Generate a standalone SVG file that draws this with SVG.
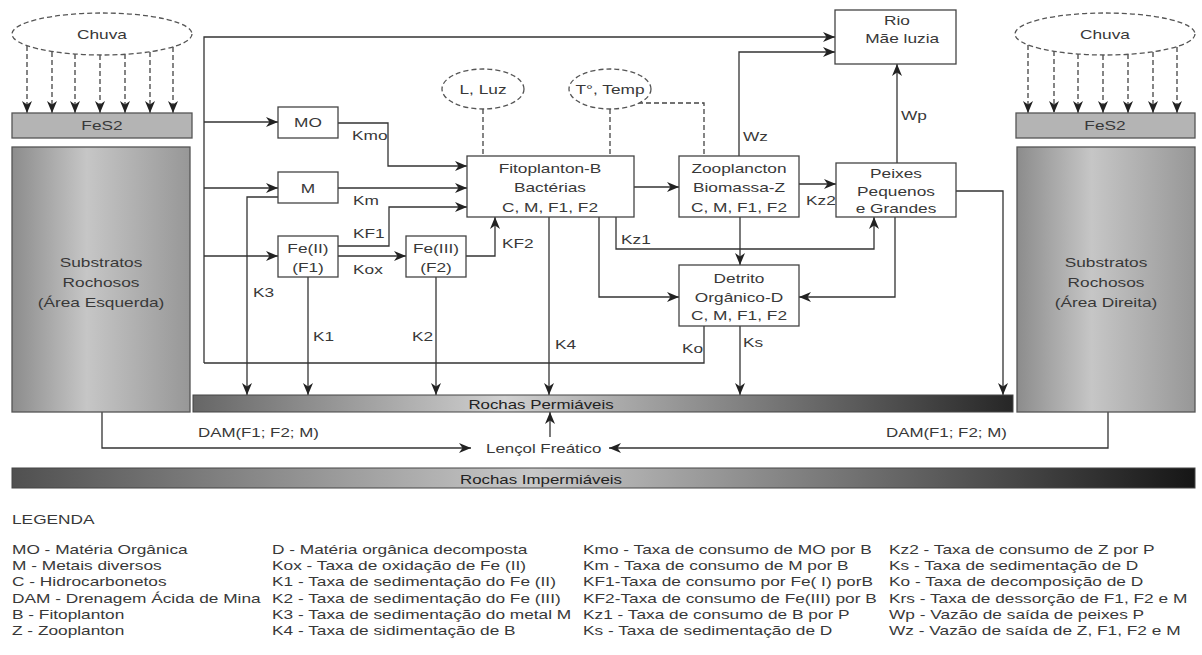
<svg xmlns="http://www.w3.org/2000/svg" width="1202" height="655" viewBox="0 0 1202 655">
<defs>
<style>
text{font-family:"Liberation Sans",Arial,sans-serif;font-size:13.5px;fill:#383838}
.m{text-anchor:middle}
.box{fill:#fff;stroke:#444;stroke-width:1.3}
.ln{fill:none;stroke:#333;stroke-width:1.3}
.ar{marker-end:url(#ah)}
.dash{fill:none;stroke:#444;stroke-width:1.3;stroke-dasharray:5,3}
.ell{fill:#fff;stroke:#555;stroke-width:1.3;stroke-dasharray:5,3}
.fes{fill:#b4b4b4;stroke:#555;stroke-width:1.3}
.rock{fill:url(#gRock);stroke:#555;stroke-width:1.3}
</style>
<marker id="ah" viewBox="0 0 12 10" refX="12" refY="5" markerWidth="12" markerHeight="10" markerUnits="userSpaceOnUse" orient="auto">
<path d="M0,0 L12,5 L0,10 L3.5,5 Z" fill="#222"/>
</marker>
<linearGradient id="gRock" x1="0" y1="0" x2="1" y2="0">
<stop offset="0" stop-color="#8c8c8c"/><stop offset="0.42" stop-color="#c6c6c6"/><stop offset="1" stop-color="#979797"/>
</linearGradient>
<linearGradient id="gPerm" x1="0" y1="0" x2="1" y2="0">
<stop offset="0" stop-color="#666"/><stop offset="0.38" stop-color="#d0d0d0"/><stop offset="1" stop-color="#262626"/>
</linearGradient>
<linearGradient id="gImp" x1="0" y1="0" x2="1" y2="0">
<stop offset="0" stop-color="#505050"/><stop offset="0.44" stop-color="#c8c8c8"/><stop offset="1" stop-color="#161616"/>
</linearGradient>
</defs>
<rect width="1202" height="655" fill="#fff"/>

<g id="connectors">
<path class="ln ar" d="M204,363 V37 H835"/>
<path class="ln ar" d="M204,122 H278"/>
<path class="ln ar" d="M204,188 H278"/>
<path class="ln ar" d="M204,256 H278"/>
<path class="ln" d="M704,326 V363 H204"/>
<path class="ln ar" d="M338,123 H388 V166 H467"/>
<path class="ln ar" d="M338,188 H467"/>
<path class="ln ar" d="M338,246 H389 V207 H467"/>
<path class="ln ar" d="M338,256 H406"/>
<path class="ln ar" d="M466,256 H495 V217"/>
<path class="ln ar" d="M278,197 H247 V395"/>
<path class="ln ar" d="M308,277 V395"/>
<path class="ln ar" d="M436,277 V395"/>
<path class="ln ar" d="M549,217 V395"/>
<path class="ln ar" d="M634,187 H679"/>
<path class="ln ar" d="M599,217 V297 H679"/>
<path class="ln ar" d="M616,217 V249 H874 V217"/>
<path class="ln ar" d="M740,217 V265"/>
<path class="ln ar" d="M739,156 V52 H835"/>
<path class="ln ar" d="M799,184 H836"/>
<path class="ln ar" d="M897,163 V64"/>
<path class="ln ar" d="M895,217 V297 H799"/>
<path class="ln ar" d="M956,191 H1003 V395"/>
<path class="ln ar" d="M740,326 V395"/>
<path class="ln ar" d="M102,412 V448 H471"/>
<path class="ln ar" d="M1108,412 V448 H609"/>
<path class="ln ar" d="M550,437 V412"/>
<path class="dash" d="M483,109 V156"/>
<path class="dash" d="M610,109 V156"/>
<path class="dash" d="M638,103 H704 V156"/>
<g class="dash ar">
<path d="M27,46 V113"/><path d="M52,52 V113"/><path d="M75,54 V113"/><path d="M100,55 V113"/><path d="M125,54 V113"/><path d="M150,52 V113"/><path d="M173,47 V113"/>
<path d="M1028,45 V113"/><path d="M1054,51 V113"/><path d="M1078,54 V113"/><path d="M1103,55 V113"/><path d="M1128,54 V113"/><path d="M1153,52 V113"/><path d="M1177,47 V113"/>
</g>
</g>

<g id="chuva-esq"><ellipse class="ell" cx="102" cy="34" rx="90" ry="21"/><text class="m" transform="translate(102,39) scale(1.28,1)">Chuva</text></g>
<g id="chuva-dir"><ellipse class="ell" cx="1105" cy="34" rx="90" ry="21"/><text class="m" transform="translate(1105,39) scale(1.28,1)">Chuva</text></g>
<g id="fes2-esq"><rect class="fes" x="12" y="113" width="180" height="25"/><text class="m" transform="translate(102,130) scale(1.28,1)">FeS2</text></g>
<g id="fes2-dir"><rect class="fes" x="1016" y="113" width="179" height="25"/><text class="m" transform="translate(1105,130) scale(1.28,1)">FeS2</text></g>
<g id="substrato-esq"><rect class="rock" x="12" y="147" width="178" height="265"/>
<text class="m" transform="translate(101,267) scale(1.28,1)"><tspan x="0" y="0">Substratos</tspan><tspan x="0" y="20">Rochosos</tspan><tspan x="0" y="40">(Área Esquerda)</tspan></text></g>
<g id="substrato-dir"><rect class="rock" x="1017" y="147" width="178" height="265"/>
<text class="m" transform="translate(1106,267) scale(1.28,1)"><tspan x="0" y="0">Substratos</tspan><tspan x="0" y="20">Rochosos</tspan><tspan x="0" y="40">(Área Direita)</tspan></text></g>

<g id="rio"><rect class="box" x="835" y="10" width="121" height="54"/>
<text class="m" transform="translate(897,25) scale(1.28,1)"><tspan x="0" y="0">Rio</tspan><tspan x="4" y="18">Mãe luzia</tspan></text></g>
<g id="luz"><ellipse class="ell" cx="483" cy="89" rx="41" ry="20"/><text class="m" transform="translate(483,94) scale(1.28,1)">L, Luz</text></g>
<g id="temp"><ellipse class="ell" cx="610" cy="89" rx="41" ry="20"/><text class="m" transform="translate(610,94) scale(1.28,1)">T°, Temp</text></g>
<g id="mo"><rect class="box" x="278" y="107" width="60" height="31"/><text class="m" transform="translate(308,127) scale(1.28,1)">MO</text></g>
<g id="m"><rect class="box" x="278" y="172" width="60" height="31"/><text class="m" transform="translate(308,193) scale(1.28,1)">M</text></g>
<g id="fe2"><rect class="box" x="278" y="236" width="60" height="41"/>
<text class="m" transform="translate(308,253) scale(1.28,1)"><tspan x="0" y="0">Fe(II)</tspan><tspan x="0" y="19">(F1)</tspan></text></g>
<g id="fe3"><rect class="box" x="406" y="236" width="60" height="41"/>
<text class="m" transform="translate(436,253) scale(1.28,1)"><tspan x="0" y="0">Fe(III)</tspan><tspan x="0" y="19">(F2)</tspan></text></g>
<g id="fito"><rect class="box" x="467" y="156" width="167" height="61"/>
<text class="m" transform="translate(550,173) scale(1.28,1)"><tspan x="0" y="0">Fitoplanton-B</tspan><tspan x="0" y="19">Bactérias</tspan><tspan x="0" y="39">C, M, F1, F2</tspan></text></g>
<g id="zoo"><rect class="box" x="679" y="156" width="120" height="61"/>
<text class="m" transform="translate(739,173) scale(1.28,1)"><tspan x="0" y="0">Zooplancton</tspan><tspan x="0" y="19">Biomassa-Z</tspan><tspan x="0" y="39">C, M, F1, F2</tspan></text></g>
<g id="peixes"><rect class="box" x="836" y="163" width="120" height="54"/>
<text class="m" transform="translate(896,178) scale(1.28,1)"><tspan x="0" y="0">Peixes</tspan><tspan x="0" y="18">Pequenos</tspan><tspan x="0" y="35">e Grandes</tspan></text></g>
<g id="detrito"><rect class="box" x="679" y="265" width="120" height="61"/>
<text class="m" transform="translate(739,283) scale(1.28,1)"><tspan x="0" y="0">Detrito</tspan><tspan x="0" y="19">Orgânico-D</tspan><tspan x="0" y="37">C, M, F1, F2</tspan></text></g>

<g id="rochas-permeaveis"><rect x="193" y="395" width="820" height="17" fill="url(#gPerm)" stroke="#444" stroke-width="1"/>
<text class="m" transform="translate(541,409) scale(1.25,1)" style="fill:#222">Rochas Permiáveis</text></g>
<g id="lencol"><text transform="translate(486,453) scale(1.25,1)">Lençol Freático</text></g>
<g id="rochas-impermeaveis"><rect x="12" y="468" width="1183" height="20" fill="url(#gImp)" stroke="#444" stroke-width="1"/>
<text class="m" transform="translate(541,484) scale(1.25,1)" style="fill:#222">Rochas Impermiáveis</text></g>

<g id="labels">
<text transform="translate(352,140) scale(1.28,1)">Kmo</text>
<text transform="translate(353,205) scale(1.28,1)">Km</text>
<text transform="translate(353,238) scale(1.28,1)">KF1</text>
<text transform="translate(353,274) scale(1.28,1)">Kox</text>
<text transform="translate(502,248) scale(1.28,1)">KF2</text>
<text transform="translate(253,297) scale(1.28,1)">K3</text>
<text transform="translate(313,341) scale(1.28,1)">K1</text>
<text transform="translate(412,341) scale(1.28,1)">K2</text>
<text transform="translate(555,349) scale(1.28,1)">K4</text>
<text transform="translate(621,244) scale(1.28,1)">Kz1</text>
<text transform="translate(682,353) scale(1.28,1)">Ko</text>
<text transform="translate(743,347) scale(1.28,1)">Ks</text>
<text transform="translate(743,141) scale(1.28,1)">Wz</text>
<text transform="translate(901,120) scale(1.28,1)">Wp</text>
<text transform="translate(806,205) scale(1.28,1)">Kz2</text>
<text transform="translate(198,437) scale(1.25,1)">DAM(F1; F2; M)</text>
<text transform="translate(886,437) scale(1.25,1)">DAM(F1; F2; M)</text>
</g>

<g id="legenda">
<text transform="translate(12,524) scale(1.28,1)">LEGENDA</text>
<g transform="translate(12,0)">
<text transform="translate(0,554) scale(1.28,1)">MO - Matéria Orgânica</text>
<text transform="translate(0,570) scale(1.28,1)">M - Metais diversos</text>
<text transform="translate(0,586) scale(1.28,1)">C - Hidrocarbonetos</text>
<text transform="translate(0,603) scale(1.28,1)">DAM - Drenagem Ácida de Mina</text>
<text transform="translate(0,619) scale(1.28,1)">B - Fitoplanton</text>
<text transform="translate(0,635) scale(1.28,1)">Z - Zooplanton</text>
</g>
<g transform="translate(272,0)">
<text transform="translate(0,554) scale(1.28,1)">D - Matéria orgânica decomposta</text>
<text transform="translate(0,570) scale(1.28,1)">Kox - Taxa de oxidação de Fe (II)</text>
<text transform="translate(0,586) scale(1.28,1)">K1 - Taxa de sedimentação do Fe (II)</text>
<text transform="translate(0,603) scale(1.28,1)">K2 - Taxa de sedimentação do Fe (III)</text>
<text transform="translate(0,619) scale(1.28,1)">K3 - Taxa de sedimentação do metal M</text>
<text transform="translate(0,635) scale(1.28,1)">K4 - Taxa de sidimentação de B</text>
</g>
<g transform="translate(583,0)">
<text transform="translate(0,554) scale(1.28,1)">Kmo - Taxa de consumo de MO por B</text>
<text transform="translate(0,570) scale(1.28,1)">Km - Taxa de consumo de M por B</text>
<text transform="translate(0,586) scale(1.28,1)">KF1-Taxa de consumo por Fe( I) porB</text>
<text transform="translate(0,603) scale(1.28,1)">KF2-Taxa de consumo de Fe(III) por B</text>
<text transform="translate(0,619) scale(1.28,1)">Kz1 - Taxa de consumo de B por P</text>
<text transform="translate(0,635) scale(1.28,1)">Ks - Taxa de sedimentação de D</text>
</g>
<g transform="translate(889,0)">
<text transform="translate(0,554) scale(1.28,1)">Kz2 - Taxa de consumo de Z por P</text>
<text transform="translate(0,570) scale(1.28,1)">Ks - Taxa de sedimentação de D</text>
<text transform="translate(0,586) scale(1.28,1)">Ko - Taxa de decomposição de D</text>
<text transform="translate(0,603) scale(1.28,1)">Krs - Taxa de dessorção de F1, F2 e M</text>
<text transform="translate(0,619) scale(1.28,1)">Wp - Vazão de saída de peixes P</text>
<text transform="translate(0,635) scale(1.28,1)">Wz - Vazão de saída de Z, F1, F2 e M</text>
</g>
</g>
</svg>
